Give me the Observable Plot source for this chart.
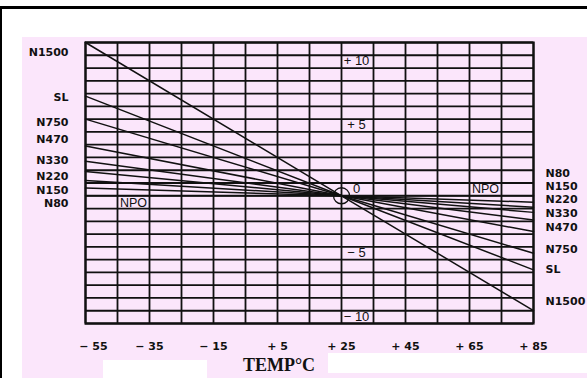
<!DOCTYPE html>
<html>
<head>
<meta charset="utf-8">
<script src="https://cdn.jsdelivr.net/npm/d3@7"></script>
<script src="https://cdn.jsdelivr.net/npm/@observablehq/plot@0.6"></script>
<style>
  html, body { margin: 0; padding: 0; background: #ffffff; }
  #wrap { position: relative; width: 587px; height: 378px; overflow: hidden; background: #ffffff; }
  .bg { position: absolute; }
  #chart { position: absolute; left: 0; top: 0; }
  #xtitle { position: absolute; left: 229px; top: 355px; width: 100px; text-align: center;
    font-family: "Liberation Serif", "DejaVu Serif", serif; font-weight: bold; font-size: 18px; color: #111; line-height: 21px; }
</style>
</head>
<body>
<div id="wrap">
  <div class="bg" style="left:0;top:6px;width:587px;height:3px;background:#000"></div>
  <div class="bg" style="left:0;top:6px;width:2px;height:372px;background:#000"></div>
  <div class="bg" style="left:22px;top:37px;width:565px;height:341px;background:#fbe6fb"></div>
  <div class="bg" style="left:103px;top:360px;width:104px;height:18px;background:#fff"></div>
  <div class="bg" style="left:328px;top:353px;width:259px;height:20px;background:#fff"></div>
  <div id="chart"></div>
  <div id="xtitle">TEMP°C</div>
</div>
<script>
// Series (temperature coefficient classes)
const seriesNames = ["N1500", "SL", "N750", "N470", "N330", "N220", "N150", "N80", "NPO"];
const valueAtMinus55 = [12, 7.8, 6, 3.9, 2.7, 1.9, 1.2, 0.6, 0];
const valueAt25 = [0, 0, 0, 0, 0, 0, 0, 0, 0];
const valueAt85 = [-9, -5.8, -4.5, -2.8, -1.9, -1.3, -0.9, -0.5, 0];
const temps = [-55, 25, 85];

// Label positions (in chart units) for series names at the left and right sides
const leftLabelNames = ["N1500", "SL", "N750", "N470", "N330", "N220", "N150", "N80"];
const leftLabelAt = [11.2, 7.7, 5.75, 4.4, 2.75, 1.5, 0.45, -0.6];
const rightLabelNames = ["N80", "N150", "N220", "N330", "N470", "N750", "SL", "N1500"];
const rightLabelAt = [1.77, 0.73, -0.29, -1.38, -2.48, -4.2, -5.75, -8.3];

// Axis tick labels
const xTickValues = [-55, -35, -15, 5, 25, 45, 65, 85];
const xTickLabels = ["− 55", "− 35", "− 15", "+ 5", "+ 25", "+ 45", "+ 65", "+ 85"];
const yTickValues = [10, 5, 0, -5, -10];
const yTickLabels = ["+ 10", "+ 5", "0", "− 5", "− 10"];

// NPO labels
const npoLabelT = [-40, 70];

const lineData = [];
seriesNames.forEach((name, i) => {
  const vals = [valueAtMinus55[i], valueAt25[i], valueAt85[i]];
  temps.forEach((t, j) => lineData.push({name, t, v: vals[j]}));
});
const leftLabels = leftLabelNames.map((n, i) => ({n, v: leftLabelAt[i]}));
const rightLabels = rightLabelNames.map((n, i) => ({n, v: rightLabelAt[i]}));
const xTicks = xTickValues.map((t, i) => ({t, s: xTickLabels[i]}));
const yTicks = yTickValues.map((v, i) => ({v, s: yTickLabels[i]}));

const ink = "#111";
const boldFont = "'DejaVu Sans', 'Liberation Sans', sans-serif";
const chart = Plot.plot({
  width: 587,
  height: 378,
  marginLeft: 85,
  marginRight: 54,
  marginTop: 42,
  marginBottom: 55,
  style: {background: "transparent", fontFamily: "'Liberation Sans', Arial, sans-serif"},
  x: {domain: [-55, 85], axis: null},
  y: {domain: [-10, 12], axis: null},
  marks: [
    Plot.gridX(d3.range(-55, 86, 10), {stroke: ink, strokeOpacity: 1, strokeWidth: 1.8}),
    Plot.gridY(d3.range(-10, 13, 1), {stroke: ink, strokeOpacity: 1, strokeWidth: 1.8}),
    Plot.frame({stroke: ink, strokeWidth: 2.2}),
    Plot.line(lineData, {x: "t", y: "v", z: "name", stroke: ink, strokeWidth: 1.5}),
    Plot.dot([{t: 25, v: 0}], {x: "t", y: "v", r: 8, stroke: ink, strokeWidth: 1.3, fill: "none"}),
    Plot.text(yTicks, {x: 25, y: "v", text: "s", dx: 15, dy: -7, fontSize: 13, fill: ink}),
    Plot.text([npoLabelT[0]], {x: d => d, y: 0, text: () => "NPO", dy: 7, fontSize: 12.5, fill: ink}),
    Plot.text([npoLabelT[1]], {x: d => d, y: 0, text: () => "NPO", dy: -7, fontSize: 12.5, fill: ink}),
    Plot.text(leftLabels, {x: -55, y: "v", text: "n", dx: -17, textAnchor: "end", fontSize: 11, fontWeight: "bold", fontFamily: boldFont, fill: ink}),
    Plot.text(rightLabels, {x: 85, y: "v", text: "n", dx: 12, textAnchor: "start", fontSize: 11, fontWeight: "bold", fontFamily: boldFont, fill: ink}),
    Plot.text(xTicks.slice(0, 1), {x: "t", y: -10, text: "s", dx: 8, dy: 23, fontSize: 11, fontWeight: "bold", fontFamily: boldFont, fill: ink}),
    Plot.text(xTicks.slice(1), {x: "t", y: -10, text: "s", dy: 23, fontSize: 11, fontWeight: "bold", fontFamily: boldFont, fill: ink})
  ]
});
document.getElementById("chart").append(chart);
</script>
</body>
</html>
